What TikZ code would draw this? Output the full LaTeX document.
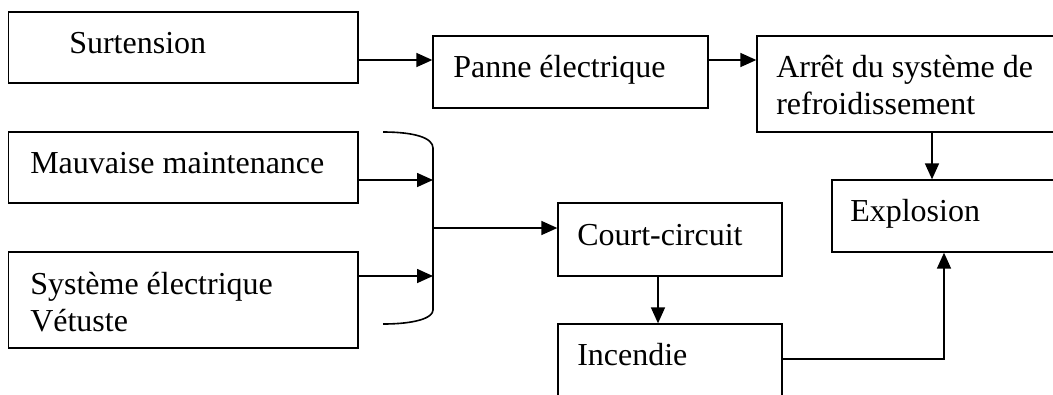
\documentclass[tikz,border=0pt]{standalone}
\usepackage{fontspec}
\setmainfont{Liberation Serif}
\usetikzlibrary{arrows.meta,fit}
\begin{document}
\begin{tikzpicture}[x=0.75pt,y=-0.75pt,
  box/.style={draw,line width=1pt,inner sep=0pt,rectangle},
  txt/.style={anchor=base west,inner sep=0pt,font=\fontsize{24}{27.6}\selectfont,align=left},
  conn/.style={line width=1.2pt,-{Triangle[length=12pt,width=10.5pt]}},
  ln/.style={line width=1.2pt}]
\useasboundingbox (0,0) rectangle (1053,394);
\clip (0,0) rectangle (1053,394);
% boxes
\node[box,fit={(8.5,12)(358,83)}] (sur) {};
\node[box,fit={(433,36)(708,108)}] (pan) {};
\node[box,fit={(757,36)(1080,132)}] (arret) {};
\node[box,fit={(8.5,132)(358,203)}] (mau) {};
\node[box,fit={(8.5,252)(358,348)}] (sys) {};
\node[box,fit={(558,203)(782,276)}] (cc) {};
\node[box,fit={(558,324)(782,430)}] (inc) {};
\node[box,fit={(832,180)(1080,252)}] (exp) {};
% texts (anchored at the baseline of the last line)
\node[txt] (tsur) at (69,53) {Surtension};
\node[txt] (tpan) at (453,77) {Panne électrique};
\node[txt] (tarr) at (776,114) {Arrêt du système de\\refroidissement};
\node[txt] (tmau) at (30,173) {Mauvaise maintenance};
\node[txt] (tsys) at (30,331) {Système électrique\\Vétuste};
\node[txt] (tcc) at (577,245) {Court-circuit};
\node[txt] (tinc) at (577,365) {Incendie};
\node[txt] (texp) at (850,221) {Explosion};
% helper coordinates
\coordinate (y1) at (0,60);
\coordinate (x1) at (932,0);
\coordinate (ym) at (0,180);
\coordinate (ys) at (0,276);
\coordinate (bx) at (433,0);
\coordinate (bk) at (433,228);
\coordinate (bt) at (383,132);
\coordinate (bb) at (383,324);
\coordinate (xc) at (658,0);
\coordinate (yi) at (0,359);
\coordinate (xe) at (944,0);
% connectors
\draw[conn] (sur.east|-y1) -- (pan.west|-y1);
\draw[conn] (pan.east|-y1) -- (arret.west|-y1);
\draw[conn] (arret.south-|x1) -- (exp.north-|x1);
\draw[ln] (bt) .. controls (415,132) and (433,138) .. (433,148) -- (433,310) .. controls (433,318) and (415,324) .. (bb);
\draw[conn] (mau.east|-ym) -- (bx|-ym);
\draw[conn] (sys.east|-ys) -- (bx|-ys);
\draw[conn] (bk) -- (cc.west|-bk);
\draw[conn] (cc.south-|xc) -- (inc.north-|xc);
\draw[conn] (inc.east|-yi) -| (exp.south-|xe);
\end{tikzpicture}
\end{document}
